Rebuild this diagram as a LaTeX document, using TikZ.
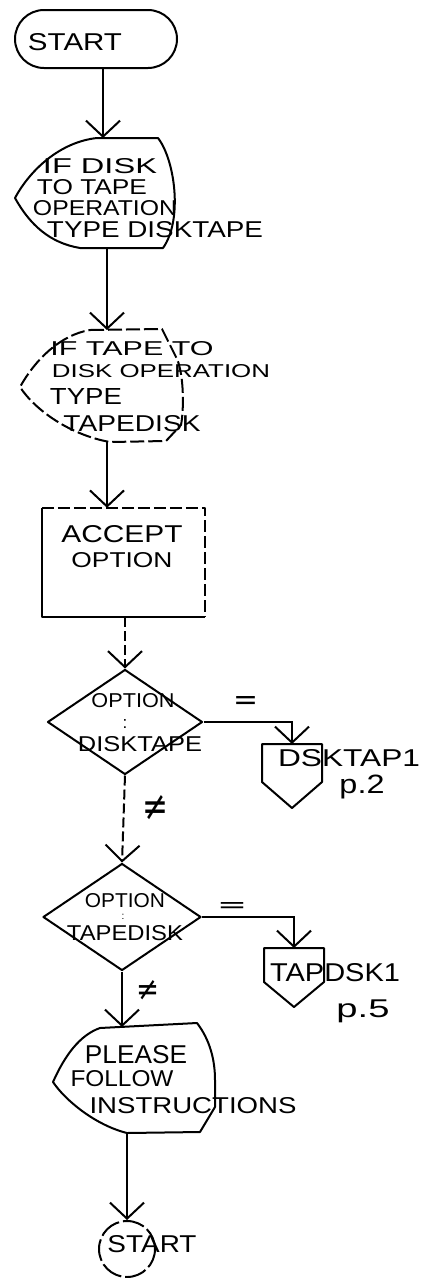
\documentclass[tikz,border=0pt]{standalone}
\usepackage{fontspec}
\setsansfont{Liberation Sans}
\newfontfamily\symf{DejaVu Sans}
\usepackage{graphicx}
\usetikzlibrary{shapes.geometric,arrows.meta}
\newcommand{\hw}[3]{\resizebox{#1pt}{#2pt}{\sffamily #3}}
\newcommand{\hwt}[3]{\resizebox*{#1pt}{#2pt}{\sffamily #3}}
\newcommand{\hs}[3]{\resizebox*{#1pt}{#2pt}{\symf #3}}
\begin{document}
\begin{tikzpicture}[x=1pt,y=-1pt,
  shp/.style={line width=2pt, line join=round},
  dshp/.style={shp, dash pattern=on 14pt off 4pt},
  conn/.style={line width=2pt, -{Straight Barb[length=16pt,width=34pt,line width=2pt]}},
  dconn/.style={conn, dash pattern=on 10pt off 4pt},
  lbl/.style={inner sep=0pt, outer sep=0pt},
  colon/.style={lbl, font=\sffamily\fontsize{17}{17}\selectfont},
  dia/.style={diamond, draw, shp, inner sep=0pt},
]
\useasboundingbox[fill=white] (0,0) rectangle (428,1278);

% START terminal
\node[draw, shp, rounded corners=29pt, minimum width=162pt, minimum height=58pt, inner sep=0pt] (start) at (96,39) {};
\node[lbl] (tstart) at (75,42) {\hw{94}{17}{START}};

% display shape 1
\draw[shp] (97,138) -- (158,138) .. controls (175,160) and (183,220) .. (163,248)
  -- (80,248) .. controls (50,243) and (30,225) .. (15,198)
  .. controls (30,170) and (60,142) .. (97,138) -- cycle;
\coordinate (s1top) at (103,138);
\coordinate (s1bot) at (107,248);
\node[lbl] (a1) at (100,166) {\hw{114}{15}{IF DISK}};
\node[lbl] (a2) at (92,187) {\hw{110}{15}{TO TAPE}};
\node[lbl] (a3) at (105,208) {\hw{144}{15}{OPERATION}};
\node[lbl] (a4) at (155,230) {\hw{216}{16}{TYPE DISKTAPE}};

% display shape 2 (dashed)
\draw[dshp] (90,330) -- (162,329) -- (177,359) .. controls (184,375) and (184,410) .. (181,425)
  -- (166,441) -- (110,442) .. controls (70,435) and (35,410) .. (20,387)
  .. controls (35,360) and (60,335) .. (90,330) -- cycle;
\coordinate (s2top) at (107,330);
\coordinate (s2bot) at (107,442);
\node[lbl] (b1) at (132,349) {\hw{163}{14}{IF TAPE TO}};
\node[lbl] (b2) at (161,371) {\hw{218}{13}{DISK OPERATION}};
\node[lbl] (b3) at (86,396) {\hw{72}{16}{TYPE}};
\node[lbl] (b4) at (132,424) {\hw{137}{16}{TAPEDISK}};

% ACCEPT OPTION box
\node[minimum width=163pt, minimum height=109pt, inner sep=0pt] (box) at (123.5,562.5) {};
\draw[shp] (box.north west) -- (box.south west) -- (box.south east);
\draw[shp, dash pattern=on 12pt off 4pt] (box.north west) -- (box.north east) -- (box.south east);
\node[lbl] (c1) at (122,534) {\hw{121}{17}{ACCEPT}};
\node[lbl] (c2) at (122,560) {\hw{101}{15}{OPTION}};

% decision 1
\node[dia, minimum width=155pt, minimum height=105pt] (d1) at (125,722) {};
\node[lbl] (e1) at (133,701) {\hw{83}{14}{OPTION}};
\node[colon] (e2) at (125,724) {:};
\node[lbl] (e3) at (140,744) {\hw{124}{15}{DISKTAPE}};

% off-page DSKTAP1
\draw[shp] (262,744) -- (322,744) -- (322,782) -- (292,808) -- (262,782) -- cycle;
\coordinate (dk1top) at (292,744);
\node[lbl] (f1) at (349,758) {\hw{142}{17}{DSKTAP1}};
\node[lbl] (f2) at (362,787) {\hwt{45}{24}{p.2}};

% decision 2
\node[dia, minimum width=158pt, minimum height=107pt] (d2) at (122,917) {};
\node[lbl] (g1) at (125,901) {\hw{80}{14}{OPTION}};
\node[lbl, font=\sffamily\fontsize{10}{10}\selectfont] (g2) at (123,917) {:};
\node[lbl] (g3) at (125,933) {\hw{116}{15}{TAPEDISK}};

% off-page TAPDSK1
\draw[shp] (264,948) -- (324,948) -- (324,982) -- (294,1007) -- (264,982) -- cycle;
\coordinate (tk1top) at (294,948);
\node[lbl] (h1) at (335,973) {\hw{130}{18}{TAPDSK1}};
\node[lbl] (h2) at (363,1011) {\hwt{53}{23}{p.5}};

% display shape 3
\draw[shp] (100,1028) -- (197,1023) .. controls (210,1040) and (215,1060) .. (215,1080)
  -- (215,1107) -- (200,1132) -- (127,1133) .. controls (95,1125) and (65,1100) .. (53,1082)
  .. controls (65,1055) and (80,1035) .. (100,1028) -- cycle;
\coordinate (s3top) at (122,1027);
\coordinate (s3bot) at (127,1133);
\node[lbl] (k1) at (136,1055) {\hw{102}{18}{PLEASE}};
\node[lbl] (k2) at (122,1079) {\hw{103}{16}{FOLLOW}};
\node[lbl] (k3) at (193,1106) {\hw{207}{16}{INSTRUCTIONS}};

% end connector
\node[circle, draw, shp, dash pattern=on 22pt off 4pt, minimum size=56pt, inner sep=0pt] (endc) at (127,1249) {};
\node[lbl] (m1) at (152,1244) {\hw{89}{17}{START}};

% connectors
\draw[conn] (start.south -| s1top) -- (s1top);
\draw[conn] (s1bot) -- (s2top);
\draw[conn] (s2bot) -- (s2bot |- box.north);
\draw[dconn] (box.south -| d1.north) -- (d1.north);
\draw[conn] (d1.east) -| (dk1top);
\node[lbl] (eq1) at (246,703) {\hs{25}{13}{=}};
\draw[dconn] (d1.south) -- (d2.north);
\node[lbl] (ne1) at (155,808) {\hs{26}{25}{≠}};
\draw[conn] (d2.east) -| (tk1top);
\node[lbl] (eq2) at (232,907) {\hs{30}{10}{=}};
\draw[conn] (d2.south) -- (d2.south |- s3top);
\node[lbl] (ne2) at (148,990) {\hs{23}{20}{≠}};
\draw[conn] (s3bot) -- (endc.north);
\end{tikzpicture}
\end{document}
